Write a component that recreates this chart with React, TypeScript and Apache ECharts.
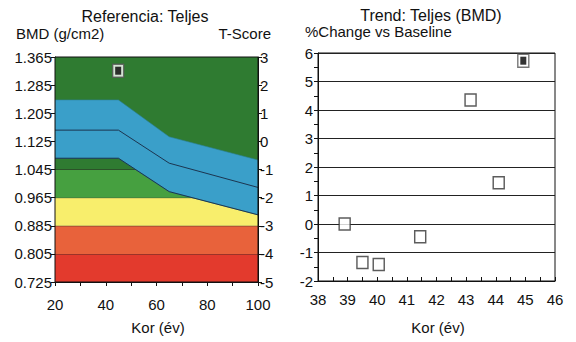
import React, { useEffect, useRef } from 'react';
import * as echarts from 'echarts';

// ---- Reference chart data (BMD in g/cm2) ----
const refAges = [20, 45, 65, 100];
const upperBMD = [1.243, 1.243, 1.138, 1.072];
const meanBMD = [1.157, 1.157, 1.063, 0.994];
const lowerBMD = [1.077, 1.077, 0.982, 0.916];
const patientAges = [44.9];
const patientBMD = [1.326];

// T-score bands (low, high)
const bandLows = [-5, -4, -3, -2, -1];
const bandHighs = [-4, -3, -2, -1, 3];
const bandColors = ['#e33a2d', '#e8623b', '#f8ee6c', '#46a040', '#2f7b31'];

// BMD = T0_BMD + T * SD_BMD  (T-score axis mapping)
const T0_BMD = 1.125;
const SD_BMD = 0.08;

// ---- Trend chart data ----
const trendAges = [38.9, 39.5, 40.05, 41.45, 43.15, 44.1];
const trendChange = [0.0, -1.35, -1.42, -0.45, 4.35, 1.45];
const latestAge = [44.93];
const latestChange = [5.73];

const FONT = 'Liberation Sans, Arial, sans-serif';
const TXT = '#111';

const toT = (b: number) => (b - T0_BMD) / SD_BMD;
const plain = (v: number) => String(v).replace('\u2212', '-');

export default function App() {
  const ref = useRef<HTMLDivElement>(null);
  useEffect(() => {
    const chart = echarts.init(ref.current!, undefined, { renderer: 'svg' });
    const upperT = upperBMD.map(toT);
    const meanT = meanBMD.map(toT);
    const lowerT = lowerBMD.map(toT);
    const xMin = 20, xMax = 100;

    const option: any = {
      animation: false,
      backgroundColor: '#fff',
      textStyle: { fontFamily: FONT },
      grid: [
        { left: 55, top: 57, width: 203, height: 225, show: true, borderColor: '#111', borderWidth: 1, backgroundColor: 'transparent', z: 10 },
        { left: 318, top: 53, width: 237, height: 228, show: true, borderColor: '#111', borderWidth: 1, backgroundColor: 'transparent' },
      ],
      xAxis: [
        {
          gridIndex: 0, type: 'value', min: xMin, max: xMax, interval: 20,
          axisLine: { onZero: false, lineStyle: { color: '#111' } },
          axisTick: { show: true, inside: false, length: 4, lineStyle: { color: '#111' } },
          minorTick: { show: true, splitNumber: 2, length: 4, lineStyle: { color: '#111' } },
          splitLine: { show: false },
          axisLabel: { fontSize: 15, color: TXT, margin: 15, fontFamily: FONT },
        },
        {
          gridIndex: 1, type: 'value', min: 38, max: 46, interval: 1,
          axisLine: { onZero: false, lineStyle: { color: '#111' } },
          axisTick: { show: true, inside: true, length: 4, lineStyle: { color: '#111' } },
          minorTick: { show: true, splitNumber: 2, length: 4, lineStyle: { color: '#111' } },
          splitLine: { show: false },
          axisLabel: { fontSize: 15, color: TXT, margin: 11, fontFamily: FONT },
        },
      ],
      yAxis: [
        {
          gridIndex: 0, type: 'value', position: 'left', min: -5, max: 3, interval: 1,
          axisLine: { show: true, onZero: false, lineStyle: { color: '#111' } },
          axisTick: { show: true, length: 4, lineStyle: { color: '#111' } },
          splitLine: { show: false },
          axisLabel: { fontSize: 15, color: TXT, margin: 3, fontFamily: FONT, formatter: (v: number) => (T0_BMD + SD_BMD * v).toFixed(3) },
        },
        {
          gridIndex: 0, type: 'value', position: 'right', min: -5, max: 3, interval: 1,
          axisLine: { show: true, onZero: false, lineStyle: { color: '#111' } },
          axisTick: { show: true, length: 4, lineStyle: { color: '#111' } },
          splitLine: { show: false },
          axisLabel: { fontSize: 15, color: TXT, margin: 2, fontFamily: FONT, formatter: plain },
        },
        {
          gridIndex: 1, type: 'value', min: -2, max: 6, interval: 1,
          axisLine: { show: true, onZero: false, lineStyle: { color: '#111' } },
          axisTick: { show: true, length: 4, lineStyle: { color: '#111' } },
          minorTick: { show: true, splitNumber: 2, length: 4, lineStyle: { color: '#111' } },
          splitLine: { show: true, lineStyle: { color: '#222', width: 1.2 } },
          axisLabel: { fontSize: 15, color: TXT, margin: 5, fontFamily: FONT, formatter: plain },
        },
      ],
      series: [
        {
          type: 'custom', xAxisIndex: 0, yAxisIndex: 0, z: 1, clip: true,
          data: bandLows.map((l, i) => [l, bandHighs[i]]),
          encode: { x: -1, y: [0, 1] },
          renderItem: (params: any, api: any) => {
            const lo = api.value(0);
            const hi = api.value(1);
            const p1 = api.coord([xMin, hi]);
            const p2 = api.coord([xMax, lo]);
            const children: any[] = [
              { type: 'rect', shape: { x: p1[0], y: p1[1], width: p2[0] - p1[0], height: p2[1] - p1[1] }, style: { fill: bandColors[params.dataIndex] } },
            ];
            if (params.dataIndex < bandLows.length - 1) {
              children.push({ type: 'line', shape: { x1: p1[0], y1: p1[1], x2: p2[0], y2: p1[1] }, style: { stroke: '#2a2a22', lineWidth: 1 } });
            }
            return { type: 'group', children };
          },
        },
        {
          type: 'custom', xAxisIndex: 0, yAxisIndex: 0, z: 2, clip: true,
          data: refAges.map((a, i) => [a, upperT[i], lowerT[i]]),
          encode: { x: 0, y: [1, 2] },
          renderItem: (params: any, api: any) => {
            if (params.dataIndex !== 0) return null;
            const pts: number[][] = [];
            refAges.forEach((a, i) => pts.push(api.coord([a, upperT[i]])));
            for (let i = refAges.length - 1; i >= 0; i--) pts.push(api.coord([refAges[i], lowerT[i]]));
            return { type: 'polygon', shape: { points: pts }, style: { fill: '#3a9fc9', stroke: '#2b7f95', lineWidth: 0.6 } };
          },
        },
        {
          type: 'line', xAxisIndex: 0, yAxisIndex: 0, z: 3, symbol: 'none',
          data: refAges.map((a, i) => [a, meanT[i]]),
          lineStyle: { color: '#1c3550', width: 1 },
        },
        {
          type: 'line', xAxisIndex: 0, yAxisIndex: 0, z: 3, symbol: 'none',
          data: refAges.map((a, i) => [a, lowerT[i]]),
          lineStyle: { color: '#1c3550', width: 1 },
        },
        {
          type: 'scatter', xAxisIndex: 0, yAxisIndex: 0, z: 4, symbol: 'rect', symbolSize: [11, 13],
          data: patientAges.map((a, i) => [a, toT(patientBMD[i])]),
          itemStyle: { color: '#fff', borderColor: '#555', borderWidth: 1.5 },
        },
        {
          type: 'scatter', xAxisIndex: 0, yAxisIndex: 0, z: 5, symbol: 'rect', symbolSize: [6, 8],
          data: patientAges.map((a, i) => [a, toT(patientBMD[i])]),
          itemStyle: { color: '#000' },
        },
        {
          type: 'scatter', xAxisIndex: 1, yAxisIndex: 2, z: 4, symbol: 'rect', symbolSize: [11, 12],
          data: trendAges.map((a, i) => [a, trendChange[i]]),
          itemStyle: { color: '#fff', borderColor: '#333', borderWidth: 1.5 },
        },
        {
          type: 'scatter', xAxisIndex: 1, yAxisIndex: 2, z: 4, symbol: 'rect', symbolSize: [11, 13],
          data: latestAge.map((a, i) => [a, latestChange[i]]),
          itemStyle: { color: '#fff', borderColor: '#555', borderWidth: 1.5 },
        },
        {
          type: 'scatter', xAxisIndex: 1, yAxisIndex: 2, z: 5, symbol: 'rect', symbolSize: [6, 8],
          data: latestAge.map((a, i) => [a, latestChange[i]]),
          itemStyle: { color: '#000' },
        },
      ],
      graphic: [
        { type: 'text', x: 145, y: 16, style: { text: 'Referencia: Teljes', font: `16px ${FONT}`, fill: TXT, textAlign: 'center', textVerticalAlign: 'middle' } },
        { type: 'text', x: 16, y: 33, style: { text: 'BMD (g/cm2)', font: `15px ${FONT}`, fill: TXT, textAlign: 'left', textVerticalAlign: 'middle' } },
        { type: 'text', x: 271, y: 33, style: { text: 'T-Score', font: `15px ${FONT}`, fill: TXT, textAlign: 'right', textVerticalAlign: 'middle' } },
        { type: 'text', x: 158, y: 327, style: { text: 'Kor (év)', font: `15px ${FONT}`, fill: TXT, textAlign: 'center', textVerticalAlign: 'middle' } },
        { type: 'text', x: 431, y: 15, style: { text: 'Trend: Teljes (BMD)', font: `16px ${FONT}`, fill: TXT, textAlign: 'center', textVerticalAlign: 'middle' } },
        { type: 'text', x: 305, y: 31, style: { text: '%Change vs Baseline', font: `15px ${FONT}`, fill: TXT, textAlign: 'left', textVerticalAlign: 'middle' } },
        { type: 'text', x: 438, y: 327, style: { text: 'Kor (év)', font: `15px ${FONT}`, fill: TXT, textAlign: 'center', textVerticalAlign: 'middle' } },
      ],
    };
    chart.setOption(option);
    return () => chart.dispose();
  }, []);
  return <div ref={ref} style={{ position: 'absolute', left: 0, top: 0, width: 576, height: 342 }} />;
}
